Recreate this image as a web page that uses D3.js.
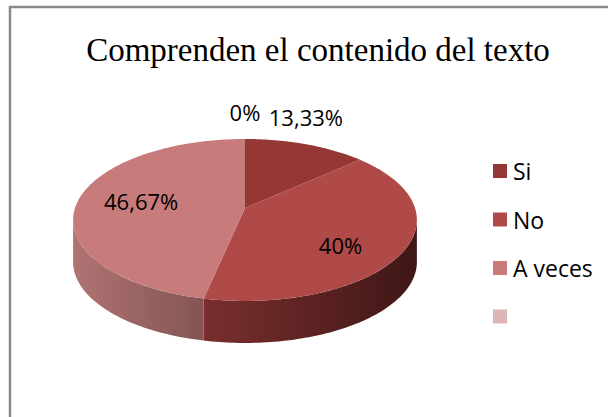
<!DOCTYPE html>
<html>
<head>
<meta charset="utf-8">
<script src="https://cdn.jsdelivr.net/npm/d3@7"></script>
<style>
  body { margin: 0; background: #fff; }
  svg { display: block; }
</style>
</head>
<body>
<svg width="608" height="417"></svg>
<script>
// data
const categories = ["Si", "No", "A veces", ""];
const values = [13.33, 40, 46.67, 0];
const labels = ["13,33%", "40%", "46,67%", "0%"];

// colours: top face, side light end, side dark end
const colors = ["#953735", "#b04a48", "#c77b7a", "#ddb5b4"];
const sideLight = ["#6e2624", "#7a2f2e", "#b07473", "#c9a09f"];
const sideDark = ["#3e1616", "#3e1716", "#835453", "#a07a79"];

const svg = d3.select("svg");

// frame (cut off on right and bottom)
svg.append("rect")
    .attr("x", 10).attr("y", 7)
    .attr("width", 700).attr("height", 500)
    .attr("fill", "none")
    .attr("stroke", "#8a8a8a")
    .attr("stroke-width", 2.5);

svg.append("text")
    .attr("x", 318).attr("y", 61)
    .attr("text-anchor", "middle")
    .attr("font-family", "'Liberation Serif', 'Times New Roman', serif")
    .attr("font-size", 33)
    .attr("fill", "#000")
    .text("Comprenden el contenido del texto");

// 3D pie with a bit of perspective
const cx = 245, cy = 208, A = 170, B = 79.2, p = 0.148, depth = 42;

function proj(t, r = 1) {
    const s = 1 + p * r * Math.cos(t);
    return [cx + r * A * Math.sin(t) / s, cy - r * B * Math.cos(t) / s];
}

function arcPts(a0, a1, dy = 0) {
    const n = Math.max(2, Math.ceil(Math.abs(a1 - a0) / 0.02));
    return d3.range(n + 1).map(i => {
        const pt = proj(a0 + (a1 - a0) * i / n);
        return [pt[0], pt[1] + dy];
    });
}

const line = d3.line();
const arcs = d3.pie().sort(null).value(d => d)(values);

const defs = svg.append("defs");
const tE = Math.acos(-p);           // rightmost silhouette angle
const tW = 2 * Math.PI - tE;        // leftmost silhouette angle

const pie = svg.append("g");

// side walls
arcs.forEach((a, i) => {
    const t0 = Math.max(a.startAngle, tE), t1 = Math.min(a.endAngle, tW);
    if (t1 <= t0) return;
    const top = arcPts(t0, t1);
    const bot = arcPts(t1, t0, depth);
    const xs = top.map(d => d[0]);
    const id = "side" + i;
    const g = defs.append("linearGradient")
        .attr("id", id)
        .attr("gradientUnits", "userSpaceOnUse")
        .attr("x1", d3.min(xs)).attr("x2", d3.max(xs))
        .attr("y1", 0).attr("y2", 0);
    // lighter on the left side, darker to the right
    g.append("stop").attr("offset", 0).attr("stop-color", sideLight[i]);
    g.append("stop").attr("offset", 1).attr("stop-color", sideDark[i]);
    pie.append("path")
        .attr("d", line(top.concat(bot)) + "Z")
        .attr("fill", "url(#" + id + ")");
});

// top faces
arcs.forEach((a, i) => {
    if (a.endAngle - a.startAngle <= 0) return;
    const pts = [[cx, cy]].concat(arcPts(a.startAngle, a.endAngle));
    pie.append("path")
        .attr("d", line(pts) + "Z")
        .attr("fill", colors[i]);
});

// data labels
const labelFont = "'Open Sans', 'Liberation Sans', sans-serif";
arcs.forEach((a, i) => {
    const mid = (a.startAngle + a.endAngle) / 2;
    let x, y;
    if (a.value / d3.sum(values) < 0.2) {
        const e = proj(mid);
        x = e[0]; y = e[1] - 27;
    } else {
        const s = 1 + p * 0.6 * Math.cos(mid);
        x = cx + 0.62 * A * Math.sin(mid) / s;
        y = cy - 0.9 * B * Math.cos(mid) / s;
    }
    svg.append("text")
        .attr("x", x).attr("y", y)
        .attr("text-anchor", "middle")
        .attr("dominant-baseline", "central")
        .attr("font-family", labelFont)
        .attr("font-size", 22)
        .attr("fill", "#000")
        .text(labels[i]);
});

// legend
const legend = svg.append("g")
    .selectAll("g")
    .data(categories)
    .enter()
    .append("g")
    .attr("transform", (d, i) => "translate(493," + (171 + i * 48.5) + ")");

legend.append("rect")
    .attr("x", 0).attr("y", -7)
    .attr("width", 14).attr("height", 14)
    .attr("fill", (d, i) => colors[i]);

legend.append("text")
    .attr("x", 20).attr("y", 0)
    .attr("dominant-baseline", "central")
    .attr("font-family", labelFont)
    .attr("font-size", 23)
    .attr("fill", "#000")
    .text(d => d);
</script>
</body>
</html>
